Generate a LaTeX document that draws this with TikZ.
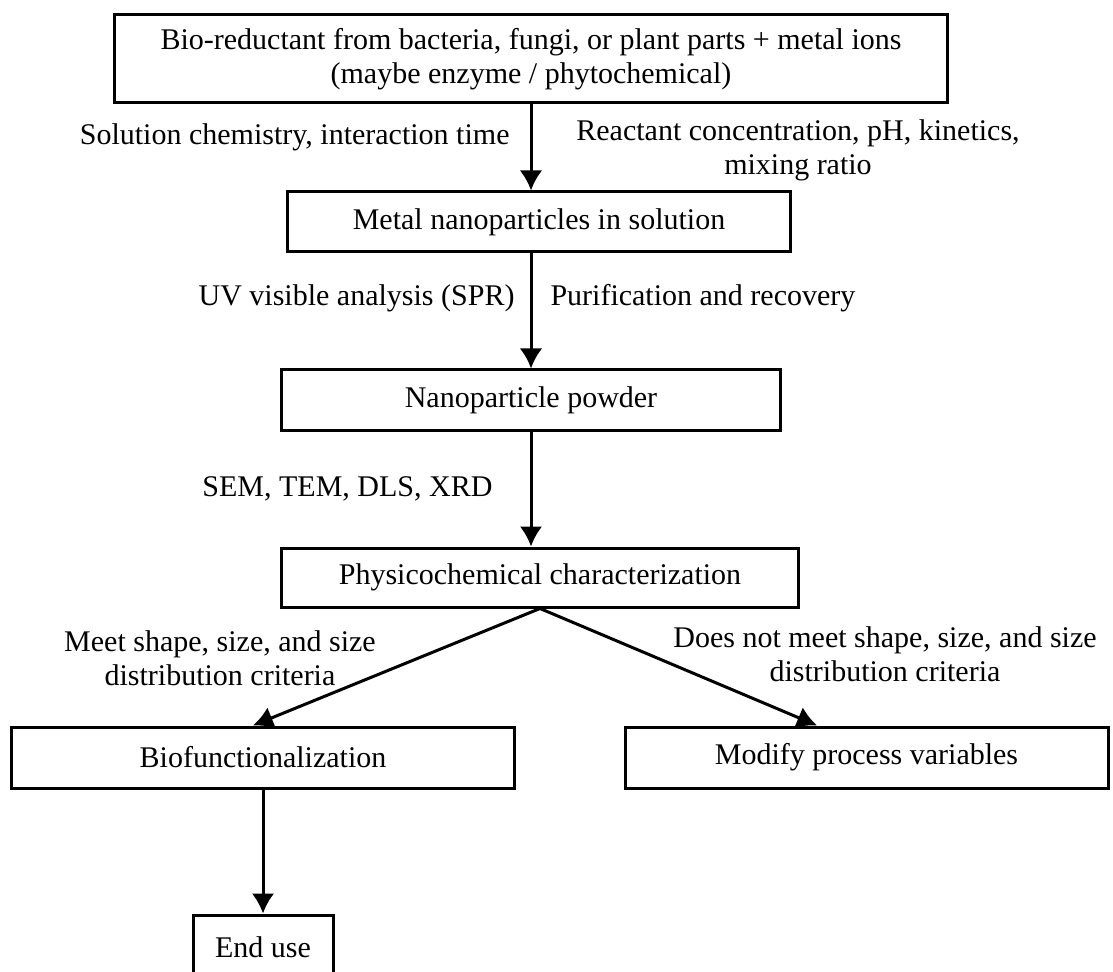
\documentclass[tikz,border=0pt]{standalone}
\usepackage{fontspec}
\setmainfont{Liberation Serif}
\usepackage{tikz}
\usetikzlibrary{arrows.meta}
\tikzset{>={Latex[length=8pt,width=9pt]}}

\begin{document}
\begin{tikzpicture}[x=0.4pt, y=-0.4pt, font=\fontsize{12}{13.5}\selectfont]
\tikzset{box/.style={draw, line width=1.2pt, inner sep=0pt, align=center}}
\tikzset{flow/.style={->, line width=1.2pt}}
\tikzset{lbl/.style={inner sep=0pt, align=center}}
    \useasboundingbox (0,0) rectangle (1113,972);

    \node[box, minimum width=332.8pt, minimum height=35.2pt] (source) at (531,59)
        {Bio-reductant from bacteria, fungi, or plant parts + metal ions\\(maybe enzyme / phytochemical)};
    \node[box, minimum width=200.8pt, minimum height=24pt] (solution) at (539,222)
        {Metal nanoparticles in solution};
    \node[box, minimum width=199.2pt, minimum height=24pt] (powder) at (531,400)
        {Nanoparticle powder};
    \node[box, minimum width=206.4pt, minimum height=23.6pt] (charact) at (540,577.5)
        {Physicochemical characterization};
    \node[box, minimum width=200.8pt, minimum height=24.4pt] (biofunc) at (263,757.5)
        {Biofunctionalization};
    \node[box, minimum width=193.2pt, minimum height=24.4pt] (modify) at (866.5,757.5)
        {Modify process variables};
    \node[box, minimum width=56pt, minimum height=25.6pt] (enduse) at (263,947)
        {End use};

    \draw[flow] (source.south) -- (source.south |- solution.north);
    \draw[flow] (powder.north |- solution.south) -- (powder.north);
    \draw[flow] (powder.south) -- (powder.south |- charact.north);
    \draw[flow] (charact.south) -- ([xshift=-4pt]biofunc.north);
    \draw[flow] (charact.south) -- ([xshift=-19.8pt]modify.north);
    \draw[flow] (biofunc.south) -- (enduse.north);
% % % % % % % % % % % % % % % % % % %
    \node[lbl, anchor=east] (chem) at (510,137) {Solution chemistry, interaction time};
    \node[lbl] (react) at (798,150) {Reactant concentration, pH, kinetics,\\mixing ratio};
    \node[lbl, anchor=east] (uvvis) at (515,298) {UV visible analysis (SPR)};
    \node[lbl, anchor=west] (purif) at (550,298) {Purification and recovery};
    \node[lbl, anchor=east] (sem) at (493,489) {SEM, TEM, DLS, XRD};
    \node[lbl] (meet) at (220,658) {Meet shape, size, and size\\distribution criteria};
    \node[lbl] (notmeet) at (885,654) {Does not meet shape, size, and size\\distribution criteria};
\end{tikzpicture}
\end{document}
